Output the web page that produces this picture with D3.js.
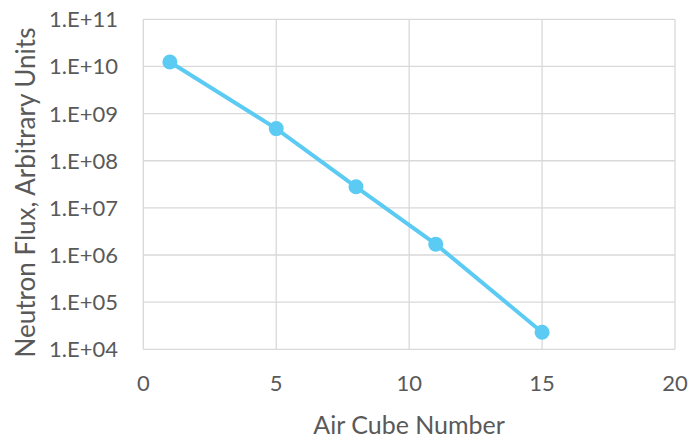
<!DOCTYPE html>
<html><head><meta charset="utf-8">
<script src="https://cdn.jsdelivr.net/npm/d3@7"></script>
<style>body{margin:0;background:#fff}svg{display:block}text{font-family:Lato,sans-serif;fill:#595959}</style>
</head><body><svg id="c" width="691" height="438"></svg>
<script>
const cubeNumbers = [1, 5, 8, 11, 15];
const fluxValues = [1.24e10, 4.8e8, 2.8e7, 1.7e6, 2.3e4];
const xTicks = [0, 5, 10, 15, 20];
const yTicks = [1e4, 1e5, 1e6, 1e7, 1e8, 1e9, 1e10, 1e11];
const yTickLabels = ["1.E+04","1.E+05","1.E+06","1.E+07","1.E+08","1.E+09","1.E+10","1.E+11"];
const xTitle = "Air Cube Number";
const yTitle = "Neutron Flux, Arbitrary Units";

const svg = d3.select("#c");
const L = 143.3, R = 675, T = 19.3, B = 349.3;
const x = d3.scaleLinear().domain([0, 20]).range([L, R]);
const y = d3.scaleLog().domain([1e4, 1e11]).range([B, T]);
const grid = "#d9d9d9", col = "#5ccbf4";

svg.append("g").selectAll("line").data(yTicks).join("line")
  .attr("x1", L).attr("x2", R).attr("y1", d => y(d)).attr("y2", d => y(d))
  .attr("stroke", grid).attr("stroke-width", 1.3);
svg.append("g").selectAll("line").data(xTicks).join("line")
  .attr("y1", T).attr("y2", B).attr("x1", d => x(d)).attr("x2", d => x(d))
  .attr("stroke", grid).attr("stroke-width", 1.3);

svg.append("g").selectAll("text").data(yTicks).join("text")
  .attr("x", 118).attr("y", d => y(d)).attr("dy", "0.36em")
  .attr("text-anchor", "end").attr("font-size", 22)
  .text((d, i) => yTickLabels[i]);
svg.append("g").selectAll("text").data(xTicks).join("text")
  .attr("x", d => x(d)).attr("y", 390.5)
  .attr("text-anchor", "middle").attr("font-size", 22)
  .text(d => d);

svg.append("text").attr("x", (L + R) / 2).attr("y", 434)
  .attr("text-anchor", "middle").attr("font-size", 25).text(xTitle);
svg.append("text").attr("transform", "translate(35,192.5) rotate(-90)")
  .attr("text-anchor", "middle").attr("font-size", 26).text(yTitle);

const data = cubeNumbers.map((c, i) => [c, fluxValues[i]]);
svg.append("path").datum(data)
  .attr("d", d3.line().x(d => x(d[0])).y(d => y(d[1])))
  .attr("fill", "none").attr("stroke", col).attr("stroke-width", 4);
svg.append("g").selectAll("circle").data(data).join("circle")
  .attr("cx", d => x(d[0])).attr("cy", d => y(d[1])).attr("r", 7.5)
  .attr("fill", col);
</script></body></html>
